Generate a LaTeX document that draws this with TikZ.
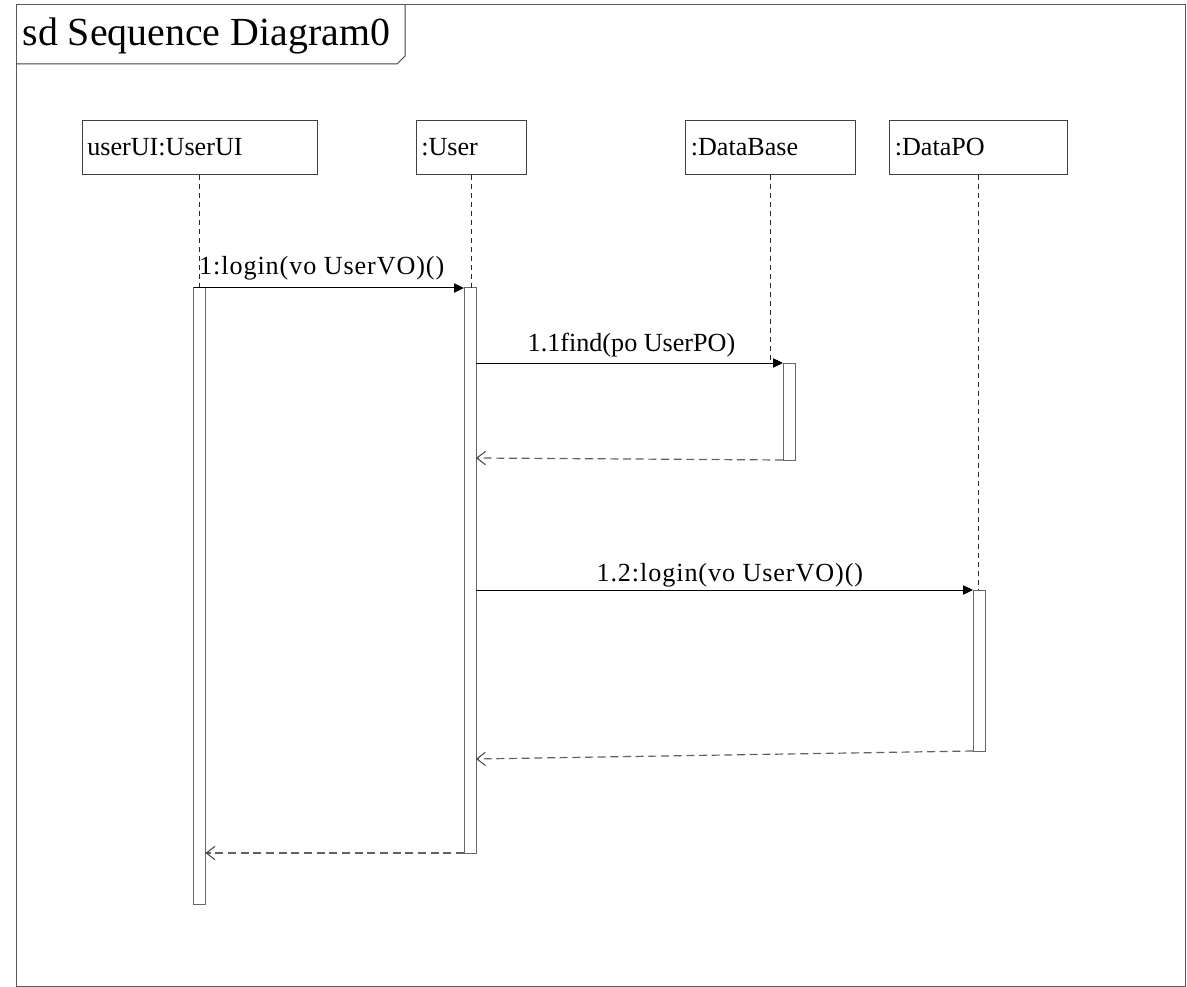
\documentclass[tikz,border=0pt]{standalone}
\usepackage{fontspec}
\setmainfont{Liberation Serif}
\usetikzlibrary{arrows.meta,calc}
\begin{document}
\begin{tikzpicture}[x=0.75pt,y=-0.75pt,
  line width=0.75pt,
  lblfont/.style={font=\fontsize{19.6}{23}\selectfont},
  head/.style={draw=black!75, anchor=north west, minimum height=40.5pt,
    inner xsep=4pt, inner ysep=0pt, align=left, lblfont},
  actbar/.style={draw=black!60, fill=white, anchor=north, minimum width=9pt,
    inner sep=0pt, outer sep=0pt},
  life/.style={draw=black!85, dash pattern=on 3.75pt off 3pt},
  call/.style={draw=black, -{Triangle[length=7.5pt,width=7pt]}},
  ret/.style={draw=black!62, line width=0.9pt, dash pattern=on 6pt off 3.5pt,
    -{Straight Barb[length=6.5pt,width=10pt,line width=0.75pt,color=black!75]}},
  msg/.style={lblfont, anchor=base, inner sep=0pt},
  wide/.style={font=\fontsize{19.6}{23}\selectfont\addfontfeature{LetterSpace=3.5}},
  frame/.style={draw=black!65},
]
\useasboundingbox (0,0) rectangle (1187,987);

% frame and title tab
\draw[frame] (16,5) rectangle (1185,986);
\draw[draw=black!75] (16,64) -- (397,64) -- (405,56) -- (405,5);
\node[anchor=base west, inner sep=0pt, font=\fontsize{29.9}{34}\selectfont] (title) at (22,46) {sd Sequence Diagram0};

% lifeline heads
\node[head, text width=168.6pt] (h1) at (81.5,120) {userUI:UserUI};
\node[head, text width=74.5pt] (h2) at (415.5,120) {:User};
\node[head, text width=119.5pt] (h3) at (685,120) {:DataBase};
\node[head, text width=125.5pt] (h4) at (889,120) {:DataPO};

% activation bars
\node[actbar, minimum height=462pt] (b1) at (199.5,288) {};
\node[actbar, minimum height=423.75pt] (b2) at (470,288) {};
\node[actbar, minimum height=72.75pt] (b3) at (789,363) {};
\node[actbar, minimum height=120.75pt] (b4) at (979,590) {};

% lifelines
\draw[life] (h1.south) -- (h1.south |- b1.north);
\draw[life] (h2.south) -- (h2.south |- b2.north);
\draw[life] (h3.south) -- (h3.south |- b3.north);
\draw[life] (h4.south) -- (h4.south |- b4.north);

% messages
\draw[call] (b1.north west) -- (b2.north west)
  node[msg, wide, midway, xshift=-5.25pt, yshift=9.75pt] {1:login(vo UserVO)()};
\draw[call] ($(b2.north east)+(0,75)$) coordinate (m2s) -- (b3.north west)
  node[msg, midway, xshift=1.5pt, yshift=9pt] {1.1find(po UserPO)};
\draw[ret] (b3.south west) -- ($(b2.north east)+(0,170)$) coordinate (r1e);
\draw[call] ($(b2.north east)+(0,302)$) coordinate (m3s) -- (b4.north west)
  node[msg, wide, midway, xshift=4pt, yshift=6.75pt] {1.2:login(vo UserVO)()};
\draw[ret] (b4.south west) -- ($(b2.north east)+(0,471)$) coordinate (r2e);
\draw[ret] (b2.south west) -- ($(b1.north east)+(0,565)$) coordinate (r3e);
\end{tikzpicture}
\end{document}
